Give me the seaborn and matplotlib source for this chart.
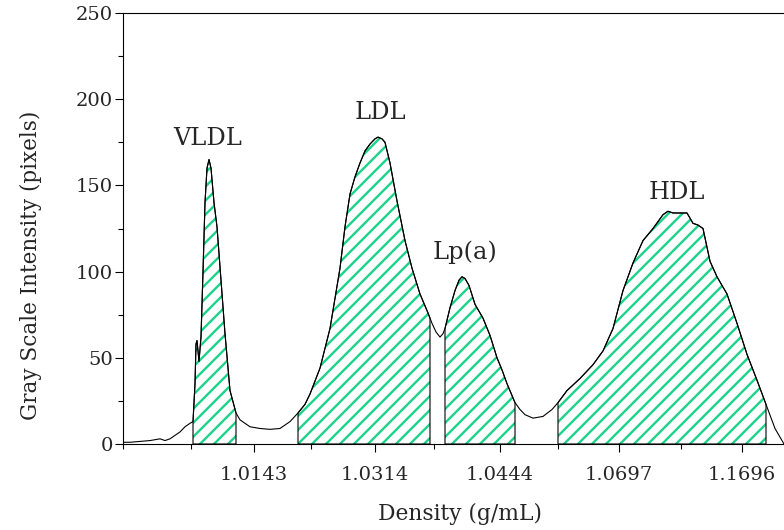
import numpy as np
import matplotlib
matplotlib.use("Agg")
import matplotlib.pyplot as plt
import seaborn as sns
import pandas as pd

# curve samples: position along the strip (pixel offset) and gray intensity
pos = [0, 7, 17, 27, 37, 42, 47, 52, 57, 62, 67, 70, 72, 73, 74, 76, 78, 80, 82, 84, 86,
       88, 91, 94, 98, 102, 107, 113, 117, 122, 127, 137, 147, 157, 167, 175, 182, 187,
       197, 207, 217, 222, 227, 232, 237, 242, 247, 252, 255, 259, 262, 267, 274, 282,
       289, 297, 305, 309, 313, 317, 320, 322, 327, 332, 336, 339, 342, 346, 352, 360,
       367, 374, 379, 384, 392, 397, 402, 410, 420, 429, 435, 444, 457, 470, 480, 490,
       500, 510, 520, 530, 540, 545, 550, 557, 564, 570, 575, 580, 587, 594, 604, 614,
       624, 634, 643, 652, 661]
intensity = [1, 1, 1.5, 2, 3, 2, 3, 5, 7, 10, 12, 13, 35, 58, 60, 48, 62, 100, 140, 160,
             165, 160, 140, 126, 95, 64, 31, 18, 14, 12, 10, 9, 8.5, 9, 13, 18, 23, 29,
             44, 67, 102, 126, 145, 155, 163, 170, 174, 177, 178, 177, 175, 163, 141, 118,
             102, 87, 76, 70, 65, 62, 64, 67, 79, 89, 95, 97, 96, 92, 81, 73, 63, 50, 43,
             35, 24, 20, 17, 15, 16, 20, 24, 31, 38, 46, 54, 67, 89, 105, 118, 125, 133,
             135, 134, 134, 134, 128, 127, 125, 106, 97, 87, 70, 52, 37, 23, 9, 0]

# fractions (start, end positions) and labels
fractions = ["VLDL", "LDL", "Lp(a)", "HDL"]
frac_start = [70, 175, 322, 435]
frac_end = [113, 307, 392, 643]
label_x = [85, 257, 342, 554]
label_y = [177, 192, 111, 146]

# density axis
tick_pos = [131, 252, 377, 496, 619]
tick_labels = ["1.0143", "1.0314", "1.0444", "1.0697", "1.1696"]
minor_pos = [0, 68, 188, 311, 435, 558]

HATCH = '#1fd38c'
DPI = 84
W, H = 784, 530


def pt(px):
    return px * 72.0 / DPI


sns.set_style("ticks")
plt.rcParams['font.family'] = ['DejaVu Serif']
plt.rcParams['hatch.linewidth'] = pt(2.4)

fig = plt.figure(figsize=(W / DPI, H / DPI), dpi=DPI)
ax = fig.add_axes([123 / W, 1 - 444 / H, 661 / W, 431 / H])

df = pd.DataFrame({"pos": pos, "intensity": intensity})
sns.lineplot(data=df, x="pos", y="intensity", ax=ax, color="black",
             linewidth=pt(1.1), zorder=4)

xf = np.array(pos, dtype=float)
yf = np.array(intensity, dtype=float)
for s, e in zip(frac_start, frac_end):
    inner = xf[(xf > s) & (xf < e)]
    xs = np.concatenate([[s], inner, [e]])
    ys = np.interp(xs, xf, yf)
    ax.fill_between(xs, 0, ys, facecolor="white", edgecolor=HATCH,
                    hatch="//", linewidth=0, zorder=2)
    ax.fill_between(xs, 0, ys, facecolor="none", edgecolor="black",
                    linewidth=pt(1.1), zorder=3)

for name, lx, ly in zip(fractions, label_x, label_y):
    ax.text(lx, ly, name, ha="center", va="center", fontsize=pt(24))

ax.set_xlim(0, 661)
ax.set_ylim(0, 250)
ax.set_yticks([0, 50, 100, 150, 200, 250])
ax.set_yticks([25, 75, 125, 175, 225], minor=True)
ax.set_xticks(tick_pos)
ax.set_xticklabels(tick_labels)
ax.set_xticks(minor_pos, minor=True)
ax.tick_params(axis="both", which="both", direction="out", width=pt(1.1), color="black")
ax.tick_params(axis="both", which="major", labelsize=pt(19.5))
ax.tick_params(axis="y", which="major", length=pt(8), pad=pt(2))
ax.tick_params(axis="y", which="minor", length=pt(5))
ax.tick_params(axis="x", which="major", length=pt(8), pad=pt(14))
ax.tick_params(axis="x", which="minor", length=pt(5))
ax.spines["right"].set_visible(False)
for sp in ["left", "bottom", "top"]:
    ax.spines[sp].set_linewidth(pt(1.1))
    ax.spines[sp].set_color("black")
ax.set_xlabel("Density (g/mL)", fontsize=pt(21.8))
ax.set_ylabel("Gray Scale Intensity (pixels)", fontsize=pt(21.5))
ax.xaxis.set_label_coords((460 - 123) / 661, (444 - 503) / 431)
ax.yaxis.set_label_coords((42 - 123) / 661, (444 - 265) / 431)

fig.savefig("out.png", dpi=DPI)
